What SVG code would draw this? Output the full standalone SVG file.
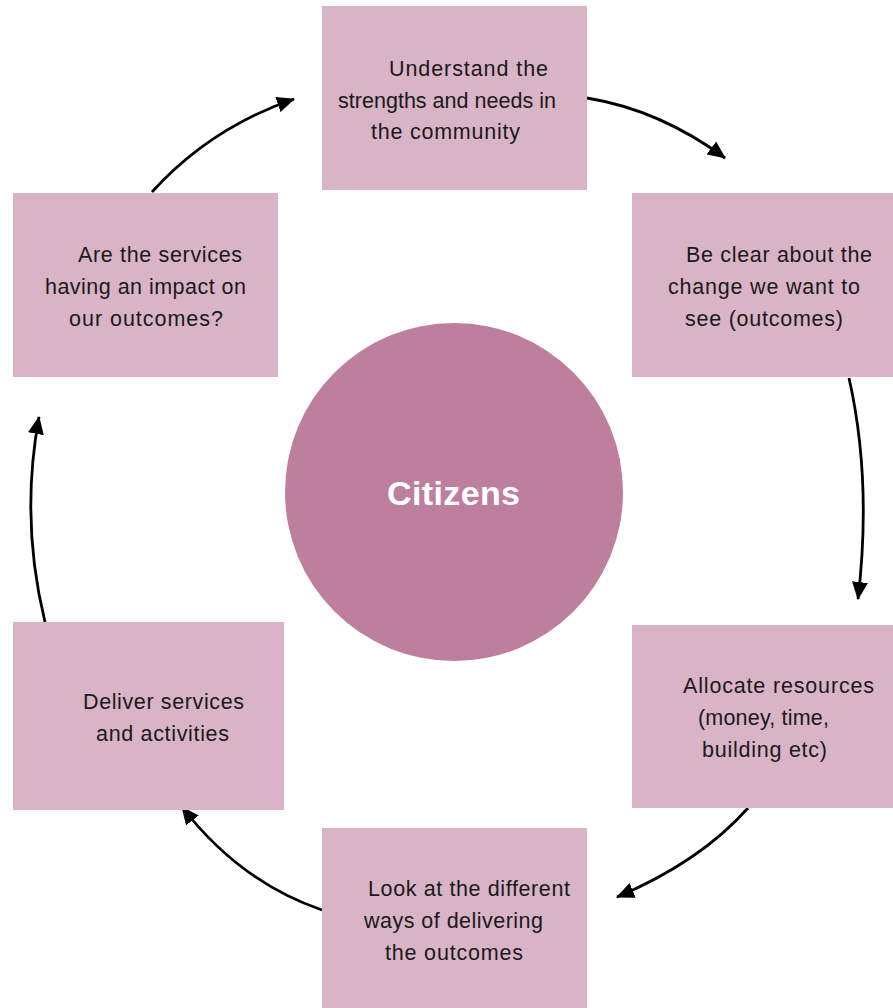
<svg xmlns="http://www.w3.org/2000/svg" width="893" height="1008" viewBox="0 0 893 1008">
<style>
.box{fill:#d9b3c6;}
.t{font-family:"Liberation Sans",Arial,sans-serif;font-size:21.5px;fill:#1a1a1a;}
.c{fill:none;stroke:#000;stroke-width:2.8;}
</style>
<defs>
<marker id="ah" markerWidth="18" markerHeight="16" refX="17" refY="8" orient="auto" markerUnits="userSpaceOnUse">
<path d="M0,0 L18,8 L0,16 Z" fill="#000"/>
</marker>
</defs>
<rect width="893" height="1008" fill="#fff"/>
<g id="connectors">
<path class="c" d="M587,98 Q660,110 725,158" marker-end="url(#ah)"/>
<path class="c" d="M849,378 Q872,480 858,599" marker-end="url(#ah)"/>
<path class="c" d="M748,808 Q700,862 617,897" marker-end="url(#ah)"/>
<path class="c" d="M322,910 Q240,882 182,807" marker-end="url(#ah)"/>
<path class="c" d="M45,622 Q20,520 39,417" marker-end="url(#ah)"/>
<path class="c" d="M152,192 Q210,128 294,99" marker-end="url(#ah)"/>
</g>
<g id="citizens">
<circle cx="454" cy="492" r="169" fill="#be7f9e"/>
<text x="387" y="505" textLength="133" lengthAdjust="spacing" font-family="'Liberation Sans',Arial,sans-serif" font-size="34" font-weight="bold" fill="#fff">Citizens</text>
</g>
<g id="understand">
<rect class="box" x="322" y="6" width="265" height="184"/>
<text class="t" x="389" y="76" textLength="159" lengthAdjust="spacing">Understand the</text>
<text class="t" x="338" y="108" textLength="218" lengthAdjust="spacing">strengths and needs in</text>
<text class="t" x="371" y="139" textLength="149" lengthAdjust="spacing">the community</text>
</g>
<g id="clear">
<rect class="box" x="632" y="193" width="261" height="184"/>
<text class="t" x="686" y="262" textLength="186" lengthAdjust="spacing">Be clear about the</text>
<text class="t" x="668" y="294" textLength="192" lengthAdjust="spacing">change we want to</text>
<text class="t" x="685" y="326" textLength="158" lengthAdjust="spacing">see (outcomes)</text>
</g>
<g id="allocate">
<rect class="box" x="632" y="625" width="261" height="183"/>
<text class="t" x="683" y="693" textLength="191" lengthAdjust="spacing">Allocate resources</text>
<text class="t" x="698" y="725" textLength="131" lengthAdjust="spacing">(money, time,</text>
<text class="t" x="702" y="757" textLength="125" lengthAdjust="spacing">building etc)</text>
</g>
<g id="look">
<rect class="box" x="322" y="828" width="265" height="180"/>
<text class="t" x="368" y="896" textLength="202" lengthAdjust="spacing">Look at the different</text>
<text class="t" x="364" y="928" textLength="179" lengthAdjust="spacing">ways of delivering</text>
<text class="t" x="385" y="960" textLength="138" lengthAdjust="spacing">the outcomes</text>
</g>
<g id="deliver">
<rect class="box" x="13" y="622" width="271" height="188"/>
<text class="t" x="83" y="709" textLength="161" lengthAdjust="spacing">Deliver services</text>
<text class="t" x="96" y="741" textLength="133" lengthAdjust="spacing">and activities</text>
</g>
<g id="impact">
<rect class="box" x="13" y="193" width="265" height="184"/>
<text class="t" x="78" y="262" textLength="164" lengthAdjust="spacing">Are the services</text>
<text class="t" x="45" y="294" textLength="201" lengthAdjust="spacing">having an impact on</text>
<text class="t" x="69" y="326" textLength="154" lengthAdjust="spacing">our outcomes?</text>
</g>
</svg>
